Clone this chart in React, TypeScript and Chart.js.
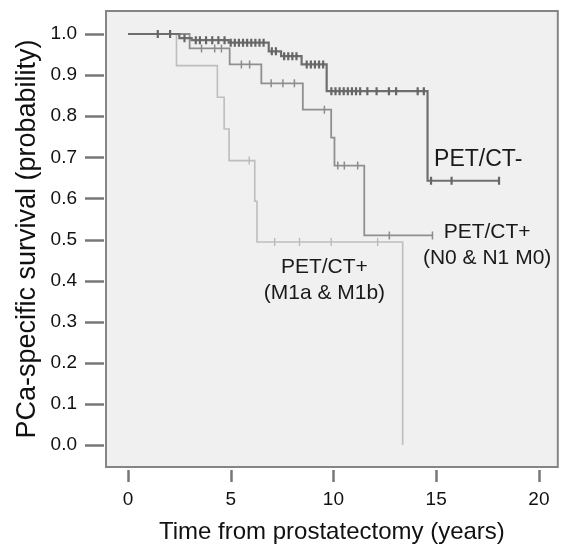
import React, { useEffect, useRef } from "react";
import { Chart, registerables } from "chart.js";

Chart.register(...registerables);

// Axis ticks
const xTicks = [0, 5, 10, 15, 20];
const yTicks = [0, 0.1, 0.2, 0.3, 0.4, 0.5, 0.6, 0.7, 0.8, 0.9, 1.0];

// PET/CT- (Kaplan-Meier steps)
const negTimes = [0, 2.5, 3.1, 4.9, 6.85, 7.45, 8.45, 9.67, 14.58, 18.06];
const negSurv = [1.0, 0.99, 0.985, 0.979, 0.958, 0.946, 0.926, 0.861, 0.643, 0.643];
const negCensor = [
  1.45, 2.05, 2.75, 3.3, 3.5, 3.8, 4.1, 4.4, 4.7, 5.0, 5.2, 5.4, 5.6, 5.8, 6.0, 6.2, 6.4, 6.6,
  7.0, 7.2, 7.6, 7.8, 8.0, 8.2, 8.7, 8.9, 9.1, 9.3, 9.5,
  9.9, 10.1, 10.3, 10.5, 10.7, 10.9, 11.1, 11.3, 11.65, 12.1, 12.7, 13.05, 14.1, 14.4,
  14.75, 15.75, 18.06,
];

// PET/CT+ (N0 & N1 M0)
const nTimes = [0, 3.0, 4.95, 6.49, 8.51, 9.89, 10.05, 11.5, 14.82];
const nSurv = [1.0, 0.965, 0.926, 0.88, 0.816, 0.748, 0.68, 0.51, 0.51];
const nCensor = [3.58, 4.22, 4.55, 5.52, 5.92, 6.97, 7.54, 8.1, 9.56, 10.21, 10.53, 11.18, 12.72, 14.82];

// PET/CT+ (M1a & M1b)
const mTimes = [0, 2.36, 4.35, 4.68, 4.92, 6.17, 6.28, 13.37];
const mSurv = [1.0, 0.923, 0.846, 0.769, 0.692, 0.593, 0.494, 0.0];
const mCensor = [5.9, 7.14, 8.35, 9.89, 12.15];

const labels = [
  { lines: ["PET/CT-"], x: 14.9, y: 0.694, align: "left", size: 23 },
  { lines: ["PET/CT+", "(N0 & N1 M0)"], x: 17.48, y: 0.519, align: "center", size: 21 },
  { lines: ["PET/CT+", "(M1a & M1b)"], x: 9.56, y: 0.432, align: "center", size: 21 },
];

const FONT = "'Liberation Sans', Arial, Helvetica, sans-serif";

function stepAt(times: number[], surv: number[], t: number) {
  let s = surv[0];
  for (let i = 0; i < times.length; i++) if (times[i] <= t) s = surv[i];
  return s;
}

const curve = (times: number[], surv: number[]) => times.map((t, i) => ({ x: t, y: surv[i] }));
const marks = (times: number[], surv: number[], c: number[]) =>
  c.map((t) => ({ x: t, y: stepAt(times, surv, t) }));

const framePlugin = {
  id: "frame",
  beforeDraw(chart: any) {
    const { ctx, chartArea: a } = chart;
    ctx.save();
    ctx.fillStyle = "#f0f0f0";
    ctx.fillRect(a.left, a.top, a.right - a.left, a.bottom - a.top);
    ctx.restore();
  },
  afterDraw(chart: any) {
    const { ctx, chartArea: a, scales } = chart;
    ctx.save();
    ctx.strokeStyle = "#858585";
    ctx.lineWidth = 2;
    ctx.strokeRect(a.left, a.top, a.right - a.left, a.bottom - a.top);
    ctx.strokeStyle = "#777777";
    ctx.lineWidth = 2.5;
    for (const v of yTicks) {
      const py = Math.round(scales.y.getPixelForValue(v)) + 0.5;
      ctx.beginPath();
      ctx.moveTo(a.left - 21, py);
      ctx.lineTo(a.left - 2, py);
      ctx.stroke();
    }
    for (const v of xTicks) {
      const px = Math.round(scales.x.getPixelForValue(v)) + 0.5;
      ctx.beginPath();
      ctx.moveTo(px, a.bottom + 3);
      ctx.lineTo(px, a.bottom + 15);
      ctx.stroke();
    }
    ctx.restore();
  },
  afterDatasetsDraw(chart: any) {
    const { ctx, scales } = chart;
    ctx.save();
    ctx.fillStyle = "#1a1a1a";
    ctx.textBaseline = "middle";
    for (const l of labels) {
      ctx.font = `${l.size}px ${FONT}`;
      ctx.textAlign = l.align as CanvasTextAlign;
      const px = scales.x.getPixelForValue(l.x);
      const py = scales.y.getPixelForValue(l.y);
      l.lines.forEach((s, i) => ctx.fillText(s, px, py + i * 26));
    }
    ctx.restore();
  },
};

export default function App() {
  const ref = useRef<HTMLCanvasElement>(null);
  useEffect(() => {
    if (!ref.current) return;
    const lineDs = (data: any[], color: string, w: number) => ({
      data,
      borderColor: color,
      borderWidth: w,
      stepped: "before",
      pointRadius: 0,
      fill: false,
    });
    const markDs = (data: any[], color: string, w: number) => ({
      data,
      showLine: false,
      borderColor: color,
      backgroundColor: color,
      pointStyle: "line",
      rotation: 90,
      pointRadius: 4,
      pointBorderWidth: w,
    });
    const noPad = (s: any) => {
      s.paddingTop = 0;
      s.paddingBottom = 0;
      s.paddingLeft = 0;
      s.paddingRight = 0;
    };
    const chart = new Chart(ref.current, {
      type: "line",
      data: {
        datasets: [
          markDs(marks(negTimes, negSurv, negCensor), "#666666", 2.2) as any,
          lineDs(curve(negTimes, negSurv), "#6e6e6e", 2.2) as any,
          markDs(marks(nTimes, nSurv, nCensor), "#8c8c8c", 1.5) as any,
          lineDs(curve(nTimes, nSurv), "#8f8f8f", 1.8) as any,
          markDs(marks(mTimes, mSurv, mCensor), "#b8b8b8", 1.3) as any,
          lineDs(curve(mTimes, mSurv), "#bdbdbd", 1.6) as any,
        ],
      },
      options: {
        animation: false,
        responsive: true,
        maintainAspectRatio: false,
        layout: { padding: { top: 11, right: 5, left: 0, bottom: 0 } },
        plugins: { legend: { display: false }, tooltip: { enabled: false } },
        scales: {
          x: {
            type: "linear",
            min: -1.07,
            max: 20.92,
            afterBuildTicks: (s: any) => {
              s.ticks = xTicks.map((v) => ({ value: v }));
            },
            afterFit: (s: any) => {
              s.height = 84;
              noPad(s);
            },
            grid: { display: false, drawTicks: false },
            border: { display: false },
            ticks: { font: { family: FONT, size: 19 }, color: "#111", padding: 21, maxRotation: 0 },
            title: {
              display: true,
              text: "Time from prostatectomy (years)",
              font: { family: FONT, size: 24 },
              color: "#111",
              padding: { top: 0, bottom: 4 },
            },
          },
          y: {
            type: "linear",
            min: -0.0535,
            max: 1.056,
            afterBuildTicks: (s: any) => {
              s.ticks = yTicks.map((v) => ({ value: v }));
            },
            afterFit: (s: any) => {
              s.width = 106;
              noPad(s);
            },
            grid: { display: false, drawTicks: false },
            border: { display: false },
            ticks: {
              font: { family: FONT, size: 19 },
              color: "#111",
              padding: 29,
              callback: (v: any) => Number(v).toFixed(1),
            },
            title: {
              display: true,
              text: "PCa-specific survival (probability)",
              font: { family: FONT, size: 27 },
              color: "#111",
              padding: { top: 11, bottom: 0 },
            },
          },
        },
      },
      plugins: [framePlugin],
    });
    return () => chart.destroy();
  }, []);
  return (
    <div style={{ position: "fixed", left: 0, top: 0, width: 564, height: 551, background: "#fff" }}>
      <canvas ref={ref} />
    </div>
  );
}
